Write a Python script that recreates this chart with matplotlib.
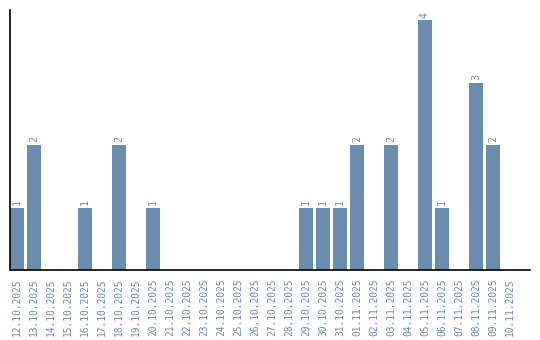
import matplotlib
matplotlib.use("Agg")
import matplotlib.pyplot as plt

dates = ["12.10.2025","13.10.2025","14.10.2025","15.10.2025","16.10.2025","17.10.2025",
         "18.10.2025","19.10.2025","20.10.2025","21.10.2025","22.10.2025","23.10.2025",
         "24.10.2025","25.10.2025","26.10.2025","27.10.2025","28.10.2025","29.10.2025",
         "30.10.2025","31.10.2025","01.11.2025","02.11.2025","03.11.2025","04.11.2025",
         "05.11.2025","06.11.2025","07.11.2025","08.11.2025","09.11.2025","10.11.2025"]
values = [1,2,0,0,1,0,2,0,1,0,0,0,0,0,0,0,0,1,1,1,2,0,2,0,4,1,0,3,2,0]

color = "#6b8cae"
font = "DejaVu Sans Mono"
fig = plt.figure(figsize=(5.4, 3.4), dpi=100)
ax = fig.add_axes([10/540, 1-270/340, 520/540, 260/340])
x = list(range(len(dates)))
w = 14/17
ax.bar(x, values, width=w, color=color)
for xi, v in zip(x, values):
    if v > 0:
        ax.text(xi, v + 0.04, str(v), rotation=90, ha="center", va="bottom",
                color=color, family=font, fontsize=7.2)
ax.set_xlim(-w/2, 30.18)
ax.set_ylim(0, 4.16)
ax.set_xticks(x)
ax.set_xticklabels(dates, rotation=90, family=font, fontsize=6.9, color=color)
ax.tick_params(axis="x", length=0, pad=6)
ax.set_yticks([])
for s in ["top", "right"]:
    ax.spines[s].set_visible(False)
ax.spines["left"].set_linewidth(1.2)
ax.spines["bottom"].set_linewidth(1.2)
fig.savefig("out.png", dpi=100)
